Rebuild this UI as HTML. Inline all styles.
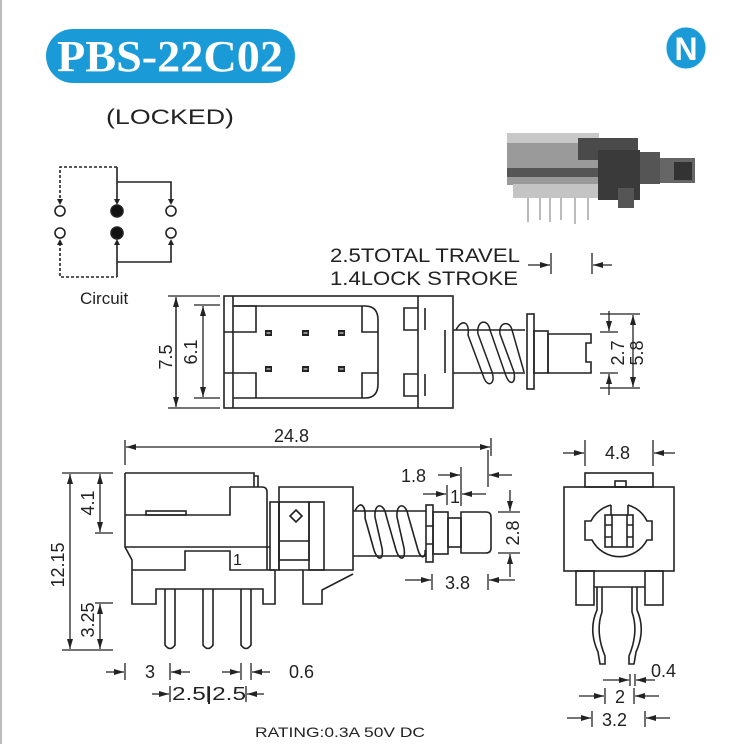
<!DOCTYPE html>
<html><head><meta charset="utf-8"><style>
html,body{margin:0;padding:0;background:#fff;}
svg{display:block;}
text{font-family:"Liberation Sans",Arial,sans-serif;fill:#222;}
</style></head><body>
<svg width="735" height="744" viewBox="0 0 735 744" xmlns="http://www.w3.org/2000/svg">
<defs>
<marker id="a" viewBox="0 0 10 6" refX="10" refY="3" markerWidth="10" markerHeight="6" markerUnits="userSpaceOnUse" orient="auto"><path d="M0,0L10,3L0,6z" fill="#222"/></marker>
</defs>
<line x1="1" y1="0" x2="1" y2="744" stroke="#bbb" stroke-width="2"/>
<!-- Title -->
<rect x="46" y="29" width="249" height="54" rx="27" fill="#1b9ad8"/>
<text x="170" y="71" text-anchor="middle" font-family="Liberation Serif,serif" font-weight="bold" font-size="44" style="fill:#fff;font-family:'Liberation Serif',serif" textLength="226" lengthAdjust="spacingAndGlyphs">PBS-22C02</text>
<ellipse cx="686" cy="48" rx="20" ry="21" fill="#1b9ad8" stroke="#e8f4fb" stroke-width="1"/>
<text x="686" y="60" text-anchor="middle" font-weight="bold" font-size="32" style="fill:#fff;font-family:'Liberation Sans',sans-serif">N</text>
<text x="106" y="124" font-size="21" textLength="128" lengthAdjust="spacingAndGlyphs">(LOCKED)</text>

<!-- Circuit -->
<g stroke="#222" stroke-width="1.6" fill="none">
<path d="M60,203V167H117" stroke-dasharray="3,2"/>
<path d="M60,243V277H117" stroke-dasharray="3,2"/>
<path d="M117,203V167 M117,243V277"/>
<path d="M117,182H171V203 M117,262H171V243"/>
<circle cx="60" cy="211" r="5" fill="#fff"/><circle cx="60" cy="233" r="5" fill="#fff"/>
<circle cx="171" cy="211" r="5" fill="#fff"/><circle cx="171" cy="233" r="5" fill="#fff"/>
<circle cx="117" cy="211" r="6" fill="#111"/><circle cx="117" cy="233" r="6" fill="#111"/>
</g>
<g fill="#222"><path d="M57,199h6l-3,6z M114,199h6l-3,6z M168,199h6l-3,6z M57,245h6l-3,-6z M114,245h6l-3,-6z M168,245h6l-3,-6z"/></g>
<text x="80" y="304" font-size="17">Circuit</text>

<!-- Photo -->
<g>
<g stroke="#bbb" stroke-width="2" fill="none"><path d="M528,196v26M540,196v24M550,196v26M561,196v24M575,196v28M588,196v24"/></g>
<rect x="507" y="133" width="92" height="52" fill="#9a9a9a"/>
<rect x="507" y="133" width="92" height="10" fill="#c8c8c8"/>
<rect x="507" y="168" width="92" height="9" fill="#555"/>
<rect x="513" y="184" width="87" height="14" fill="#c4c4c4"/>
<rect x="578" y="138" width="60" height="22" fill="#4a4a4a"/>
<rect x="598" y="150" width="42" height="50" fill="#3a3a3a"/>
<rect x="640" y="152" width="20" height="32" fill="#555"/>
<rect x="660" y="158" width="35" height="25" fill="#666"/>
<rect x="674" y="162" width="18" height="18" fill="#333"/>
<rect x="618" y="188" width="16" height="20" fill="#555"/>
</g>

<!-- travel dims -->
<text x="330" y="262" font-size="19" textLength="190" lengthAdjust="spacingAndGlyphs">2.5TOTAL TRAVEL</text>
<text x="330" y="285" font-size="19" textLength="188" lengthAdjust="spacingAndGlyphs">1.4LOCK STROKE</text>
<g stroke="#222" stroke-width="1.3">
<line x1="551" y1="253" x2="551" y2="274"/><line x1="592" y1="253" x2="592" y2="274"/>
<line x1="528" y1="265" x2="550" y2="265" marker-end="url(#a)"/>
<line x1="612" y1="265" x2="593" y2="265" marker-end="url(#a)"/>
</g>

<!-- Top view -->
<g stroke="#222" stroke-width="1.6" fill="none">
<rect x="224" y="296" width="229" height="112"/>
<line x1="233" y1="296" x2="233" y2="408"/>
<path d="M233,306H365Q378,306 378,320V384Q378,398 365,398H233"/>
<path d="M224,332H233M224,373H233"/>
<path d="M233,306H256V332H233 M233,373H256V398"/>
<path d="M362,306V332H378 M362,398V373H378"/>
<line x1="418" y1="296" x2="418" y2="408"/>
<path d="M418,308H404V330H418 M418,374H404V396H418"/>
<path d="M425,308V330 M425,374V396"/>
<path d="M453,330H525 M453,373H525"/>
<line x1="445" y1="330" x2="445" y2="373"/>
<rect x="527" y="314" width="7" height="75"/>
<rect x="534" y="331" width="14" height="42"/>
<path d="M548,334H591V343H586V362H591V373H548Z"/>
</g>
<g fill="#222">
<rect x="265" y="330" width="7" height="6"/><rect x="302" y="330" width="7" height="6"/><rect x="338" y="330" width="7" height="6"/>
<rect x="265" y="366" width="7" height="6"/><rect x="302" y="366" width="7" height="6"/><rect x="338" y="366" width="7" height="6"/>
</g>
<g fill="#fff"><rect x="266.5" y="332.5" width="4" height="1"/><rect x="303.5" y="332.5" width="4" height="1"/><rect x="339.5" y="332.5" width="4" height="1"/><rect x="266.5" y="368.5" width="4" height="1"/><rect x="303.5" y="368.5" width="4" height="1"/><rect x="339.5" y="368.5" width="4" height="1"/></g>
<g stroke="#222" stroke-width="1.5" fill="none">
<path d="M456,330C462,318 470,322 468,335L484,378C488,388 496,384 492,372L478,334C476,320 488,318 490,330L506,376C510,386 516,384 514,372L500,334C498,322 510,320 512,330L524,372"/>
</g>
<g stroke="#222" stroke-width="1.3">
<line x1="168" y1="296" x2="220" y2="296"/><line x1="168" y1="408" x2="220" y2="408"/>
<line x1="176" y1="298" x2="176" y2="406"/>
<line x1="194" y1="305" x2="220" y2="305"/><line x1="194" y1="398" x2="220" y2="398"/>
<line x1="203" y1="350" x2="203" y2="306" marker-end="url(#a)"/><line x1="203" y1="350" x2="203" y2="397" marker-end="url(#a)"/>
<line x1="176" y1="350" x2="176" y2="297" marker-end="url(#a)"/><line x1="176" y1="350" x2="176" y2="407" marker-end="url(#a)"/>
<line x1="600" y1="314" x2="640" y2="314"/><line x1="600" y1="388" x2="640" y2="388"/>
<line x1="600" y1="332" x2="618" y2="332"/><line x1="600" y1="373" x2="618" y2="373"/>
<line x1="609" y1="311" x2="609" y2="331" marker-end="url(#a)"/><line x1="609" y1="395" x2="609" y2="374" marker-end="url(#a)"/>
<line x1="633" y1="350" x2="633" y2="315" marker-end="url(#a)"/><line x1="633" y1="350" x2="633" y2="387" marker-end="url(#a)"/>
</g>
<text transform="translate(175,352) rotate(-90)" text-anchor="middle" font-size="18" x="-5" y="-3">7.5</text>
<text transform="translate(200,352) rotate(-90)" text-anchor="middle" font-size="18" x="0" y="-3">6.1</text>
<text transform="translate(627,353) rotate(-90)" text-anchor="middle" font-size="18" x="0" y="-3">2.7</text>
<text transform="translate(646,353) rotate(-90)" text-anchor="middle" font-size="18" x="0" y="-3">5.8</text>

<!-- Side view -->
<g stroke="#222" stroke-width="1.3">
<line x1="125" y1="440" x2="125" y2="465"/><line x1="491" y1="438" x2="491" y2="456"/>
<line x1="300" y1="447" x2="126" y2="447" marker-end="url(#a)"/><line x1="300" y1="447" x2="490" y2="447" marker-end="url(#a)"/>
</g>
<text x="274" y="442" font-size="18">24.8</text>
<g stroke="#222" stroke-width="1.6" fill="none">
<path d="M125,473H254V487 M254,476H258V487"/>
<path d="M230,487H262Q267,487 267,492V570"/>
<path d="M230,487V515H125"/>
<rect x="146" y="511" width="40" height="4"/>
<path d="M125,473V547L132,560V604H156V589H263V604H275V570"/>
<line x1="125" y1="547" x2="270" y2="547"/>
<path d="M132,570H185V551H230V570H275"/>
<rect x="270" y="502" width="9" height="68"/>
<path d="M279,487H353V570H279Z"/>
<rect x="279" y="502" width="30" height="58"/>
<line x1="279" y1="541" x2="309" y2="541"/>
<rect x="309" y="502" width="15" height="68"/>
<path d="M296,510L302,516L296,522L290,516Z"/>
<path d="M303,570V604H322V590L353,574"/>
<path d="M353,511H426 M353,556H426"/>
<path d="M355,511C360,500 366,505 365,518L374,550C378,562 384,560 382,548L375,517C374,502 384,503 386,515L396,550C400,562 406,560 404,548L397,517C396,502 406,503 408,515L418,550C421,560 426,558 425,550"/>
<rect x="426" y="505" width="7" height="57"/>
<path d="M426,526H433M426,544H433"/>
<rect x="433" y="512" width="15" height="42"/>
<rect x="448" y="518" width="13" height="29"/>
<path d="M461,512H486Q491,512 491,517V548Q491,553 486,553H461Z"/>
<path d="M165,589V645Q170,652 175,645V589 M203,589V645Q208,652 213,645V589 M241,589V645Q246,652 251,645V589"/>
</g>
<text x="233" y="565" font-size="16">1</text>
<!-- side dims -->
<g stroke="#222" stroke-width="1.3">
<line x1="62" y1="473" x2="113" y2="473"/><line x1="62" y1="650" x2="113" y2="650"/>
<line x1="70" y1="560" x2="70" y2="474" marker-end="url(#a)"/><line x1="70" y1="560" x2="70" y2="649" marker-end="url(#a)"/>
<line x1="95" y1="533" x2="113" y2="533"/><line x1="95" y1="603" x2="113" y2="603"/>
<line x1="100" y1="503" x2="100" y2="474" marker-end="url(#a)"/><line x1="100" y1="503" x2="100" y2="532" marker-end="url(#a)"/>
<line x1="100" y1="625" x2="100" y2="604" marker-end="url(#a)"/><line x1="100" y1="625" x2="100" y2="649" marker-end="url(#a)"/>
<line x1="461" y1="467" x2="461" y2="506"/><line x1="488" y1="450" x2="488" y2="487"/>
<line x1="438" y1="475" x2="460" y2="475" marker-end="url(#a)"/><line x1="512" y1="475" x2="489" y2="475" marker-end="url(#a)"/>
<line x1="447" y1="485" x2="447" y2="505"/>
<line x1="423" y1="494" x2="446" y2="494" marker-end="url(#a)"/><line x1="486" y1="494" x2="462" y2="494" marker-end="url(#a)"/>
<line x1="498" y1="512" x2="520" y2="512"/><line x1="498" y1="553" x2="520" y2="553"/>
<line x1="510" y1="490" x2="510" y2="511" marker-end="url(#a)"/><line x1="510" y1="577" x2="510" y2="554" marker-end="url(#a)"/>
<line x1="432" y1="574" x2="432" y2="590"/><line x1="488" y1="574" x2="488" y2="590"/>
<line x1="405" y1="580" x2="431" y2="580" marker-end="url(#a)"/><line x1="515" y1="580" x2="489" y2="580" marker-end="url(#a)"/>
<line x1="125" y1="663" x2="125" y2="680"/><line x1="170" y1="663" x2="170" y2="680"/>
<line x1="106" y1="672" x2="124" y2="672" marker-end="url(#a)"/><line x1="190" y1="672" x2="171" y2="672" marker-end="url(#a)"/>
<line x1="241" y1="663" x2="241" y2="680"/><line x1="251" y1="663" x2="251" y2="680"/>
<line x1="222" y1="672" x2="240" y2="672" marker-end="url(#a)"/><line x1="270" y1="672" x2="252" y2="672" marker-end="url(#a)"/>
<line x1="170" y1="686" x2="170" y2="702"/><line x1="208" y1="686" x2="208" y2="702"/><line x1="246" y1="686" x2="246" y2="702"/>
<line x1="152" y1="694" x2="169" y2="694" marker-end="url(#a)"/><line x1="264" y1="694" x2="247" y2="694" marker-end="url(#a)"/>
</g>
<text x="401" y="482" font-size="18">1.8</text>
<text x="450" y="503" font-size="18">1</text>
<text transform="translate(519,533) rotate(-90)" text-anchor="middle" font-size="18">2.8</text>
<text x="445" y="589" font-size="18">3.8</text>
<text transform="translate(70,565) rotate(-90)" text-anchor="middle" font-size="18" y="-6">12.15</text>
<text transform="translate(100,503) rotate(-90)" text-anchor="middle" font-size="18" y="-6">4.1</text>
<text transform="translate(100,620) rotate(-90)" text-anchor="middle" font-size="18" y="-6">3.25</text>
<text x="145" y="678" font-size="18">3</text>
<text x="289" y="678" font-size="18">0.6</text>
<text x="172" y="700" font-size="18" textLength="74" lengthAdjust="spacingAndGlyphs">2.5|2.5</text>
<text x="340" y="737" text-anchor="middle" font-size="14" textLength="170" lengthAdjust="spacingAndGlyphs">RATING:0.3A 50V DC</text>

<!-- Front view -->
<g stroke="#222" stroke-width="1.6" fill="none">
<rect x="585" y="473" width="68" height="14"/>
<rect x="615" y="481" width="11" height="6"/>
<rect x="564" y="487" width="110" height="84"/>
<rect x="576" y="571" width="18" height="34"/>
<rect x="645" y="571" width="18" height="34"/>
<line x1="594" y1="587" x2="645" y2="587"/>
<path d="M611,505A31,31 0 0 0 591,521H585V540H592A31,31 0 0 0 647,540H652V521H647A31,31 0 0 0 628,505"/>
<path d="M611,505V515 M628,505V515"/>
<rect x="605" y="515" width="28" height="32"/>
<path d="M612,515V547M627,515V547M605,525H612M605,537H612M627,525H633M627,537H633"/>
<path d="M597,587V610Q588,630 598,652L600,664H605L605,656Q595,632 602,612V587"/>
<path d="M632,587V612Q639,632 629,656L629,664H634L636,652Q646,630 637,610V587"/>
</g>
<g stroke="#222" stroke-width="1.3">
<line x1="585" y1="440" x2="585" y2="466"/><line x1="653" y1="440" x2="653" y2="466"/>
<line x1="563" y1="453" x2="584" y2="453" marker-end="url(#a)"/><line x1="675" y1="453" x2="654" y2="453" marker-end="url(#a)"/>
<line x1="630" y1="674" x2="630" y2="686"/><line x1="635" y1="674" x2="635" y2="686"/>
<line x1="603" y1="680" x2="629" y2="680" marker-end="url(#a)"/><line x1="655" y1="680" x2="636" y2="680" marker-end="url(#a)"/>
<line x1="605" y1="688" x2="605" y2="704"/><line x1="634" y1="688" x2="634" y2="704"/>
<line x1="579" y1="696" x2="604" y2="696" marker-end="url(#a)"/><line x1="659" y1="696" x2="635" y2="696" marker-end="url(#a)"/>
<line x1="592" y1="711" x2="592" y2="727"/><line x1="645" y1="711" x2="645" y2="727"/>
<line x1="567" y1="718" x2="591" y2="718" marker-end="url(#a)"/><line x1="670" y1="718" x2="646" y2="718" marker-end="url(#a)"/>
</g>
<text x="605" y="459" font-size="18">4.8</text>
<text x="651" y="677" font-size="18">0.4</text>
<text x="615" y="703" font-size="18">2</text>
<text x="602" y="726" font-size="18">3.2</text>
</svg>
</body></html>
